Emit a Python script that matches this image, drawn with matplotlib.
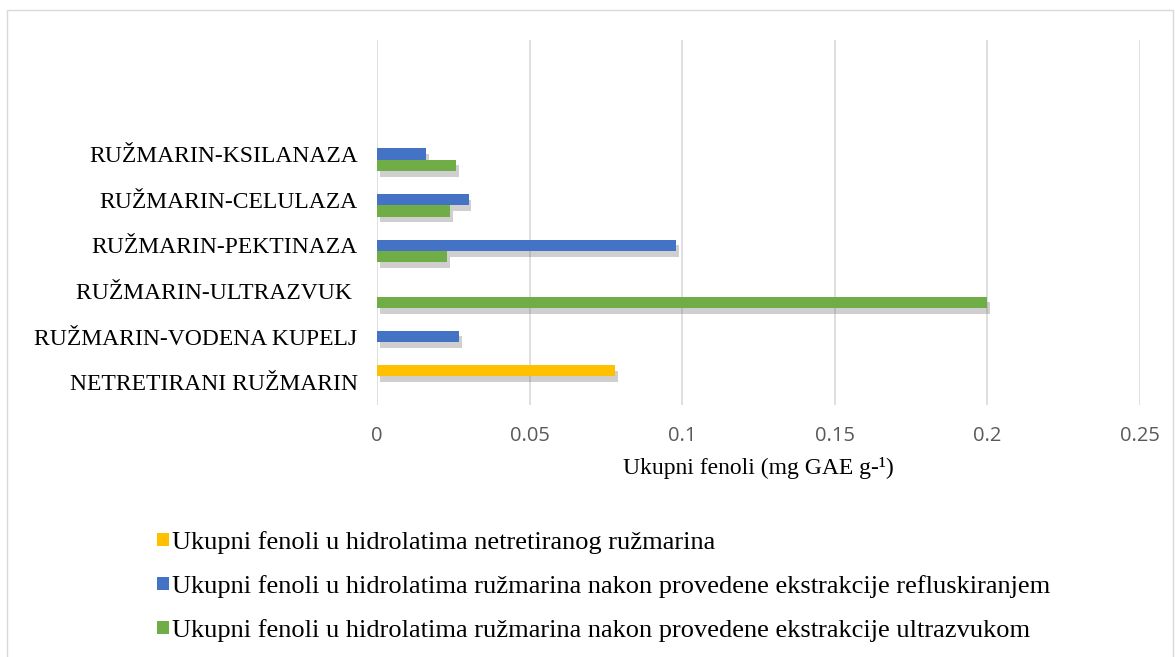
import numpy as np
import matplotlib.pyplot as plt
import matplotlib.patheffects as pe
from matplotlib.patches import Rectangle, Patch

# categories from bottom to top (two empty slots at the top, as in the original)
categories = ["NETRETIRANI RUŽMARIN", "RUŽMARIN-VODENA KUPELJ", "RUŽMARIN-ULTRAZVUK ",
              "RUŽMARIN-PEKTINAZA", "RUŽMARIN-CELULAZA", "RUŽMARIN-KSILANAZA", "", ""]

netretirani = [0.078, np.nan, np.nan, np.nan, np.nan, np.nan, np.nan, np.nan]
refluks = [np.nan, 0.027, np.nan, 0.098, 0.030, 0.016, np.nan, np.nan]
ultrazvuk = [np.nan, np.nan, 0.200, 0.023, 0.024, 0.026, np.nan, np.nan]

labels = ["Ukupni fenoli u hidrolatima netretiranog ružmarina",
          "Ukupni fenoli u hidrolatima ružmarina nakon provedene ekstrakcije refluskiranjem",
          "Ukupni fenoli u hidrolatima ružmarina nakon provedene ekstrakcije ultrazvukom"]
colors = ["#FFC000", "#4472C4", "#70AD47"]

fig = plt.figure(figsize=(11.75, 6.57), dpi=100)
ax = fig.add_axes([0.3209, 0.3836, 0.6494, 0.5554])

# light frame round the whole chart
fig.patches.append(Rectangle((0.006, -0.01), 0.992, 0.995, transform=fig.transFigure,
                             fill=False, edgecolor="#d9d9d9", linewidth=1))

y = np.arange(len(categories))
h = 0.25
shadow = [pe.SimplePatchShadow(offset=(2, -4), shadow_rgbFace="#777777", alpha=0.35), pe.Normal()]

series = [netretirani, refluks, ultrazvuk]
offsets = [h, 0, -h]
for vals, off, col in zip(series, offsets, colors):
    bars = ax.barh(y + off, vals, height=h, color=col, zorder=3)
    for b in bars:
        b.set_path_effects(shadow)

ax.set_xlim(0, 0.25)
ax.set_ylim(-0.5, 7.5)
ax.set_xticks([0, 0.05, 0.1, 0.15, 0.2, 0.25])
ax.set_xticklabels(["0", "0.05", "0.1", "0.15", "0.2", "0.25"])
ax.set_yticks(y)
ax.set_yticklabels(categories, fontfamily="Liberation Serif", fontsize=17)
ax.tick_params(axis="x", length=0, pad=15, labelsize=14.5, labelcolor="#595959")
ax.tick_params(axis="y", length=0, pad=14)
for t in ax.get_xticklabels():
    t.set_fontfamily("Open Sans")

ax.grid(axis="x", color="#d9d9d9", linewidth=1.2, zorder=0)
for s in ax.spines.values():
    s.set_visible(False)

ax.set_xlabel("Ukupni fenoli (mg GAE g-¹)", fontfamily="Liberation Serif", fontsize=17, labelpad=8)

handles = [Patch(facecolor=c) for c in colors]
fig.legend(handles, labels, loc="upper left", bbox_to_anchor=(0.125, 0.208),
           frameon=False, prop={"family": "Liberation Serif", "size": 19},
           handlelength=0.42, handleheight=0.42, handletextpad=0.15, labelspacing=0.8,
           borderaxespad=0)

plt.savefig("out.png", dpi=100)
